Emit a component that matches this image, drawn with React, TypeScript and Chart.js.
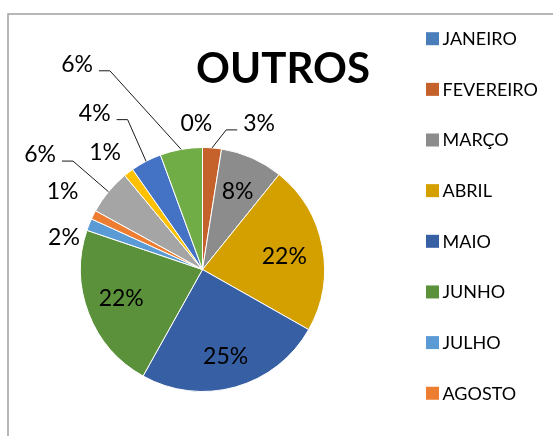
import React, { useEffect, useRef } from "react";
import { Chart, registerables } from "chart.js";

Chart.register(...registerables);

const TITLE = "OUTROS";
const MONTHS = [
  "JANEIRO",
  "FEVEREIRO",
  "MARÇO",
  "ABRIL",
  "MAIO",
  "JUNHO",
  "JULHO",
  "AGOSTO",
  "SETEMBRO",
  "OUTUBRO",
  "NOVEMBRO",
  "DEZEMBRO",
];
const VALUES = [0, 2.5, 8.3, 22.4, 24.9, 22.1, 1.6, 1.2, 6.0, 1.3, 4.1, 5.6];
const COLORS = [
  "#4A7EBB",
  "#C5612B",
  "#8C8C8C",
  "#D4A000",
  "#375FA3",
  "#5B913B",
  "#5B9BD5",
  "#ED7D31",
  "#A5A5A5",
  "#FFC000",
  "#4472C4",
  "#70AD47",
];
// number of legend entries visible in the (cropped) reference
const LEGEND_VISIBLE = 8;

// label placement relative to each arc: radius factor and angle shift (deg) from mid-angle
const LABEL_LAYOUT: { r: number; shift: number; leader?: "left" | "right" }[] = [
  { r: 1.2, shift: -2.4 },
  { r: 1.288, shift: 16.6, leader: "right" },
  { r: 0.71, shift: 0 },
  { r: 0.68, shift: 1.3 },
  { r: 0.73, shift: 0.6 },
  { r: 0.705, shift: 2 },
  { r: 1.167, shift: -8.2 },
  { r: 1.315, shift: 2.7 },
  { r: 1.633, shift: -4.2, leader: "left" },
  { r: 1.252, shift: -2.35 },
  { r: 1.56, shift: -6.95, leader: "left" },
  { r: 1.975, shift: -21.3, leader: "left" },
];

const FONT = "Lato, 'Open Sans', sans-serif";
const LABEL_SIZE = 23;
const LEGEND_SIZE = 18;
const TITLE_SIZE = 42;

const decorPlugin = {
  id: "decor",
  beforeDraw(chart: any) {
    const ctx = chart.ctx;
    ctx.save();
    ctx.strokeStyle = "#A0A0A0";
    ctx.lineWidth = 1.5;
    ctx.beginPath();
    ctx.moveTo(8, chart.height);
    ctx.lineTo(8, 14);
    ctx.lineTo(chart.width, 14);
    ctx.stroke();
    ctx.restore();
  },
  afterDraw(chart: any) {
    const ctx = chart.ctx;
    ctx.save();
    // title
    ctx.fillStyle = "#000";
    ctx.font = `bold ${TITLE_SIZE}px ${FONT}`;
    ctx.textAlign = "center";
    ctx.textBaseline = "alphabetic";
    ctx.fillText(TITLE, 283, 67.5 + TITLE_SIZE * 0.358);

    // legend
    const labels: string[] = chart.data.labels;
    const colors: string[] = chart.data.datasets[0].backgroundColor;
    ctx.font = `${LEGEND_SIZE}px ${FONT}`;
    ctx.textAlign = "left";
    for (let i = 0; i < Math.min(LEGEND_VISIBLE, labels.length); i++) {
      const cy = 38.7 + i * 50.65;
      ctx.fillStyle = colors[i];
      ctx.fillRect(426, cy - 6.5, 13, 13);
      ctx.fillStyle = "#000";
      ctx.fillText(labels[i], 442.5, cy + LEGEND_SIZE * 0.358);
    }

    // data labels
    const meta = chart.getDatasetMeta(0);
    const values: number[] = chart.data.datasets[0].data;
    const total = values.reduce((a, b) => a + b, 0);
    ctx.font = `${LABEL_SIZE}px ${FONT}`;
    ctx.textAlign = "center";
    ctx.strokeStyle = "#1A1A1A";
    ctx.lineWidth = 1;
    meta.data.forEach((arc: any, i: number) => {
      const p = arc.getProps(["x", "y", "startAngle", "endAngle", "outerRadius"], true);
      const mid = (p.startAngle + p.endAngle) / 2;
      const L = LABEL_LAYOUT[i];
      const a = mid + (L.shift * Math.PI) / 180;
      const lx = p.x + Math.cos(a) * p.outerRadius * L.r;
      const ly = p.y + Math.sin(a) * p.outerRadius * L.r;
      const text = Math.round((values[i] / total) * 100) + "%";
      ctx.fillStyle = "#000";
      ctx.fillText(text, lx, ly + LABEL_SIZE * 0.358);
      if (L.leader) {
        const w = ctx.measureText(text).width;
        const dir = L.leader === "left" ? 1 : -1;
        const endX = lx + dir * (w / 2 + 6);
        const elbowX = endX + dir * 11;
        const lineY = ly + 7;
        const sx = p.x + Math.cos(mid) * p.outerRadius;
        const sy = p.y + Math.sin(mid) * p.outerRadius;
        ctx.beginPath();
        ctx.moveTo(sx, sy);
        ctx.lineTo(elbowX, lineY);
        ctx.lineTo(endX, lineY);
        ctx.stroke();
      }
    });
    ctx.restore();
  },
};

export default function App() {
  const canvasRef = useRef<HTMLCanvasElement | null>(null);

  useEffect(() => {
    if (!canvasRef.current) return;
    const chart = new Chart(canvasRef.current, {
      type: "pie",
      data: {
        labels: MONTHS,
        datasets: [
          {
            data: VALUES,
            backgroundColor: COLORS,
            borderColor: "#FFFFFF",
            borderWidth: 1,
          },
        ],
      },
      options: {
        responsive: true,
        maintainAspectRatio: false,
        animation: false,
        layout: { padding: { left: 80, right: 228, top: 147, bottom: 44 } },
        plugins: {
          legend: { display: false },
          title: { display: false },
          tooltip: { enabled: false },
        },
      },
      plugins: [decorPlugin],
    });
    return () => chart.destroy();
  }, []);

  return (
    <div style={{ position: "absolute", left: 0, top: 0, width: 553, height: 436, background: "#fff" }}>
      <canvas ref={canvasRef} />
    </div>
  );
}
